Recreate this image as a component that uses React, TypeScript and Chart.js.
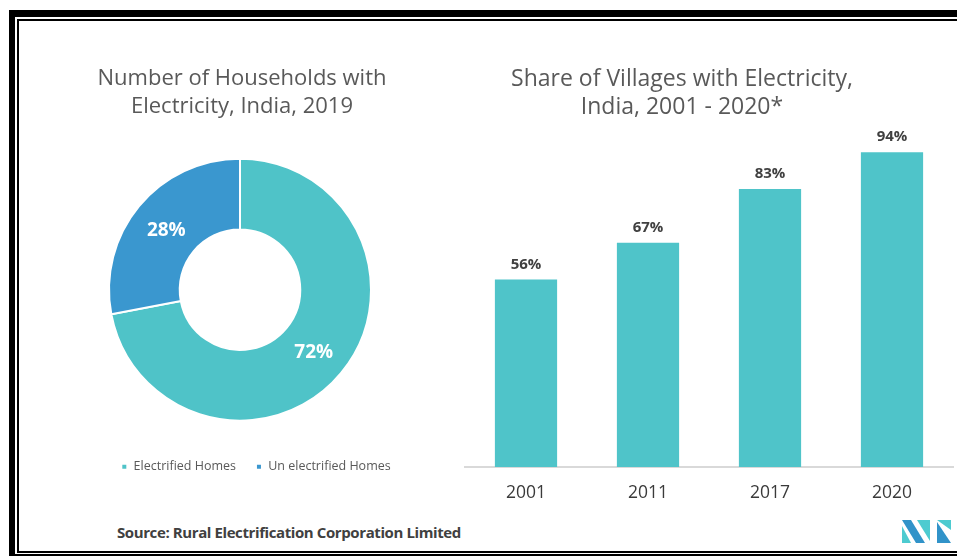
import React, { useEffect, useRef } from "react";
import { Chart, registerables } from "chart.js";

Chart.register(...registerables);

// ---- Data ----
const donutTitle = ["Number of Households with", "Electricity, India, 2019"];
const donutLabels = ["Electrified Homes", "Un electrified Homes"];
const donutValues = [72, 28];
const donutColors = ["#4FC3C8", "#3A97CF"];

const barTitle = ["Share of Villages with Electricity,", "India, 2001 - 2020*"];
const barYears = ["2001", "2011", "2017", "2020"];
const barValues = [56, 67, 83, 94];
const barColor = "#4FC4C9";

const sourceText = "Source: Rural Electrification Corporation Limited";

const FONT = "'Open Sans', 'DejaVu Sans', sans-serif";

const donutLabelPlugin = {
  id: "donutLabels",
  afterDatasetsDraw(chart: any) {
    const ctx = chart.ctx;
    const meta = chart.getDatasetMeta(0);
    ctx.save();
    ctx.fillStyle = "#ffffff";
    ctx.font = `bold 19px ${FONT}`;
    ctx.textAlign = "center";
    ctx.textBaseline = "middle";
    meta.data.forEach((arc: any, i: number) => {
      const p = arc.tooltipPosition();
      ctx.fillText(`${donutValues[i]}%`, p.x, p.y + 2);
    });
    ctx.restore();
  },
};

const barLabelPlugin = {
  id: "barLabels",
  afterDatasetsDraw(chart: any) {
    const ctx = chart.ctx;
    const meta = chart.getDatasetMeta(0);
    ctx.save();
    ctx.fillStyle = "#404040";
    ctx.font = `bold 15px ${FONT}`;
    ctx.textAlign = "center";
    ctx.textBaseline = "middle";
    meta.data.forEach((bar: any, i: number) => {
      ctx.fillText(`${barValues[i]}%`, bar.x, bar.y - 15);
    });
    ctx.restore();
  },
};

// shifts title / legend blocks horizontally after layout
function shiftPlugin(titleDx: number, legendDx: number) {
  return {
    id: "shiftBlocks",
    afterLayout(chart: any) {
      if (chart.titleBlock) {
        chart.titleBlock.left += titleDx;
        chart.titleBlock.right += titleDx;
      }
      if (chart.legend) {
        chart.legend.left += legendDx;
        chart.legend.right += legendDx;
      }
    },
  };
}

function DonutChart() {
  const ref = useRef<HTMLCanvasElement>(null);
  useEffect(() => {
    const chart = new Chart(ref.current!, {
      type: "doughnut",
      data: {
        labels: donutLabels,
        datasets: [
          {
            data: donutValues,
            backgroundColor: donutColors,
            borderColor: "#ffffff",
            borderWidth: 2,
            radius: 131,
            cutout: "46%",
          } as any,
        ],
      },
      options: {
        animation: false,
        responsive: false,
        maintainAspectRatio: false,
        layout: { padding: { bottom: 9 } },
        plugins: {
          title: {
            display: true,
            text: donutTitle,
            color: "#595959",
            font: { family: FONT, size: 22, weight: "normal", lineHeight: 1.27 },
            padding: { top: 43, bottom: 18 },
          },
          legend: {
            display: true,
            position: "bottom",
            labels: {
              color: "#595959",
              font: { family: FONT, size: 12.5 },
              boxWidth: 6,
              boxHeight: 6,
              padding: 20,
            },
          },
          tooltip: { enabled: false },
        },
      },
      plugins: [donutLabelPlugin, shiftPlugin(2, 16)],
    });
    return () => chart.destroy();
  }, []);
  return (
    <canvas
      ref={ref}
      width={440}
      height={470}
      style={{ position: "absolute", left: 20, top: 22, width: 440, height: 470 }}
    />
  );
}

function BarChart() {
  const ref = useRef<HTMLCanvasElement>(null);
  useEffect(() => {
    const chart = new Chart(ref.current!, {
      type: "bar",
      data: {
        labels: barYears,
        datasets: [
          {
            data: barValues,
            backgroundColor: barColor,
            categoryPercentage: 1,
            barPercentage: 0.51,
          },
        ],
      },
      options: {
        animation: false,
        responsive: false,
        maintainAspectRatio: false,
        layout: { padding: { left: 5, right: 4, bottom: 0 } },
        scales: {
          x: {
            grid: { display: false, drawTicks: false },
            border: { display: true, color: "#d9d9d9", width: 2 },
            ticks: {
              color: "#3a3a3a",
              font: { family: FONT, size: 17.5 },
              padding: 16,
            },
          },
          y: { display: false, min: 0, max: 100 },
        },
        plugins: {
          title: {
            display: true,
            text: barTitle,
            color: "#595959",
            font: { family: FONT, size: 23, weight: "normal", lineHeight: 1.22 },
            padding: { top: 43, bottom: 11 },
          },
          legend: { display: false },
          tooltip: { enabled: false },
        },
      },
      plugins: [barLabelPlugin, shiftPlugin(-27, 0)],
    });
    return () => chart.destroy();
  }, []);
  return (
    <canvas
      ref={ref}
      width={497}
      height={498}
      style={{ position: "absolute", left: 460, top: 22, width: 497, height: 498 }}
    />
  );
}

function Logo() {
  return (
    <svg
      width={50}
      height={24}
      viewBox="0 0 50 24"
      style={{ position: "absolute", left: 902, top: 520 }}
    >
      <polygon points="0,0 9,0 23,23 14,23" fill="#3193C9" />
      <polygon points="0,6 9,23 0,23" fill="#4DCBD0" />
      <polygon points="15,0 28,0 28,21" fill="#4DCBD0" />
      <polygon points="35,0 49,0 49,10" fill="#4DCBD0" />
      <polygon points="35,2 49,23 35,23" fill="#3193C9" />
    </svg>
  );
}

export default function App() {
  return (
    <div
      style={{
        position: "fixed",
        left: 0,
        top: 0,
        width: 957,
        height: 556,
        overflow: "hidden",
        background: "#ffffff",
      }}
    >
      <div
        style={{
          position: "absolute",
          left: 9,
          top: 10,
          width: 1000,
          height: 537,
          borderLeft: "6px solid #000",
          borderTop: "7px solid #000",
          borderBottom: "7px solid #000",
        }}
      />
      <div
        style={{
          position: "absolute",
          left: 17,
          top: 19,
          width: 1000,
          height: 530,
          borderLeft: "2px solid #000",
          borderTop: "2px solid #000",
          borderBottom: "2px solid #000",
        }}
      />
      <DonutChart />
      <BarChart />
      <div
        style={{
          position: "absolute",
          left: 117,
          top: 522,
          fontFamily: FONT,
          fontWeight: 700,
          fontSize: 15,
          color: "#404040",
          letterSpacing: -0.4,
          whiteSpace: "nowrap",
        }}
      >
        {sourceText}
      </div>
      <Logo />
    </div>
  );
}
